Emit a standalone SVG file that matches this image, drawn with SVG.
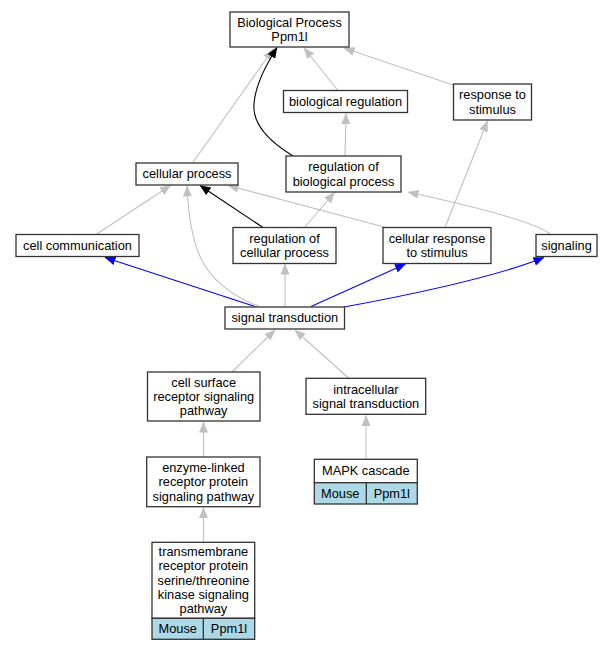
<svg xmlns="http://www.w3.org/2000/svg" width="613" height="651" viewBox="0 0 613 651">
<style>
.n rect{fill:#fff;stroke:#333;stroke-width:1.3}
.n rect.c{fill:#add8e6}
.n line{stroke:#333;stroke-width:1.3}
text{font-family:"Liberation Sans",Arial,sans-serif;font-size:12.8px;fill:#000;text-anchor:middle}
.e path{fill:none;stroke-width:1.1}
.g{stroke:#c0c0c0;marker-end:url(#ag)}
.k{stroke:#000;marker-end:url(#ak)}
.b{stroke:#0000ff;marker-end:url(#ab)}
</style>
<defs>
<marker id="ag" viewBox="0 0 11 9" refX="10.5" refY="4.5" markerWidth="11" markerHeight="9" markerUnits="userSpaceOnUse" orient="auto"><path d="M0,0 L11,4.5 L0,9 z" fill="#c0c0c0"/></marker>
<marker id="ak" viewBox="0 0 11 9" refX="10.5" refY="4.5" markerWidth="11" markerHeight="9" markerUnits="userSpaceOnUse" orient="auto"><path d="M0,0 L11,4.5 L0,9 z" fill="#000"/></marker>
<marker id="ab" viewBox="0 0 11 9" refX="10.5" refY="4.5" markerWidth="11" markerHeight="9" markerUnits="userSpaceOnUse" orient="auto"><path d="M0,0 L11,4.5 L0,9 z" fill="#0000ff"/></marker>
</defs>
<rect width="613" height="651" fill="#fff"/>
<g id="edges" class="e">
<path class="g" d="M192.5,163 L273,49.5"/>
<path class="g" d="M338,90.5 L304,48"/>
<path class="g" d="M453,85 L344,48"/>
<path class="k" d="M293,156 C270,142 252,125 254,104 C255,88 264,68 277,47.5"/>
<path class="g" d="M345,156 L346,113.5"/>
<path class="g" d="M445,227.5 L487.5,121"/>
<path class="g" d="M96,234.5 L170.5,185.5"/>
<path class="g" d="M259,306.5 C205,285 190,255 187,186"/>
<path class="k" d="M263,227.5 L200,185.5"/>
<path class="g" d="M388,228 L228,185.5"/>
<path class="g" d="M304.5,227.5 L334.5,192.5"/>
<path class="g" d="M550,234 C535,222 480,208 408,192"/>
<path class="g" d="M285,306.5 L285,264"/>
<path class="b" d="M255,306.5 L105,257.5"/>
<path class="b" d="M311,306.5 L405.5,264"/>
<path class="b" d="M344,307 C420,293 500,275 544,257.5"/>
<path class="g" d="M232,372 L275,330"/>
<path class="g" d="M349,378.5 L295,330"/>
<path class="g" d="M203.5,457 L203.5,422"/>
<path class="g" d="M203.5,542.3 L203.5,507.5"/>
<path class="g" d="M366,459.3 L366,415.5"/>
</g>
<g id="bp" class="n"><rect x="230" y="12" width="119" height="35"/><text x="289.5" y="26.8">Biological Process</text><text x="289.5" y="41.1">Ppm1l</text></g>
<g id="bioreg" class="n"><rect x="283.5" y="90.5" width="124" height="22"/><text x="345.5" y="105.9">biological regulation</text></g>
<g id="resp" class="n"><rect x="453.5" y="84" width="78" height="36"/><text x="492.5" y="99.3">response to</text><text x="492.5" y="113.6">stimulus</text></g>
<g id="cellproc" class="n"><rect x="136" y="163" width="102" height="22"/><text x="187" y="178.4">cellular process</text></g>
<g id="regbio" class="n"><rect x="286" y="156" width="115" height="36"/><text x="343.5" y="171.3">regulation of</text><text x="343.5" y="185.6">biological process</text></g>
<g id="cellcomm" class="n"><rect x="16" y="234.5" width="123" height="22"/><text x="77.5" y="249.9">cell communication</text></g>
<g id="regcell" class="n"><rect x="233" y="227.5" width="103" height="36"/><text x="284.5" y="242.8">regulation of</text><text x="284.5" y="257.1">cellular process</text></g>
<g id="cellresp" class="n"><rect x="383" y="227.5" width="108" height="36"/><text x="437" y="242.8">cellular response</text><text x="437" y="257.1">to stimulus</text></g>
<g id="signaling" class="n"><rect x="536" y="234.5" width="61" height="22"/><text x="566.5" y="249.9">signaling</text></g>
<g id="sigtrans" class="n"><rect x="225" y="307" width="119.5" height="22"/><text x="284.8" y="322.4">signal transduction</text></g>
<g id="cellsurf" class="n"><rect x="147.5" y="372" width="112.5" height="49"/><text x="203.7" y="386.6">cell surface</text><text x="203.7" y="400.9">receptor signaling</text><text x="203.7" y="415.2">pathway</text></g>
<g id="intra" class="n"><rect x="306" y="378.3" width="119.7" height="36"/><text x="365.9" y="393.6">intracellular</text><text x="365.9" y="407.9">signal transduction</text></g>
<g id="enzyme" class="n"><rect x="146.7" y="457" width="113.3" height="49.7"/><text x="203.4" y="472">enzyme-linked</text><text x="203.4" y="486.3">receptor protein</text><text x="203.4" y="500.6">signaling pathway</text></g>
<g id="tm" class="n"><rect x="152" y="542.3" width="102.7" height="76"/><rect class="c" x="152" y="618.3" width="102.7" height="21"/><line x1="203.3" y1="618.3" x2="203.3" y2="639.3"/><text x="203.4" y="556.1">transmembrane</text><text x="203.4" y="570.4">receptor protein</text><text x="203.4" y="584.7">serine/threonine</text><text x="203.4" y="599">kinase signaling</text><text x="203.4" y="613.3">pathway</text><text x="177.7" y="633.3">Mouse</text><text x="229" y="633.3">Ppm1l</text></g>
<g id="mapk" class="n"><rect x="314.3" y="459.3" width="103" height="23.4"/><rect class="c" x="314.3" y="482.7" width="103" height="21.3"/><line x1="366.3" y1="482.7" x2="366.3" y2="504"/><text x="365.8" y="475.4">MAPK cascade</text><text x="340.3" y="498">Mouse</text><text x="391.8" y="498">Ppm1l</text></g>
</svg>
